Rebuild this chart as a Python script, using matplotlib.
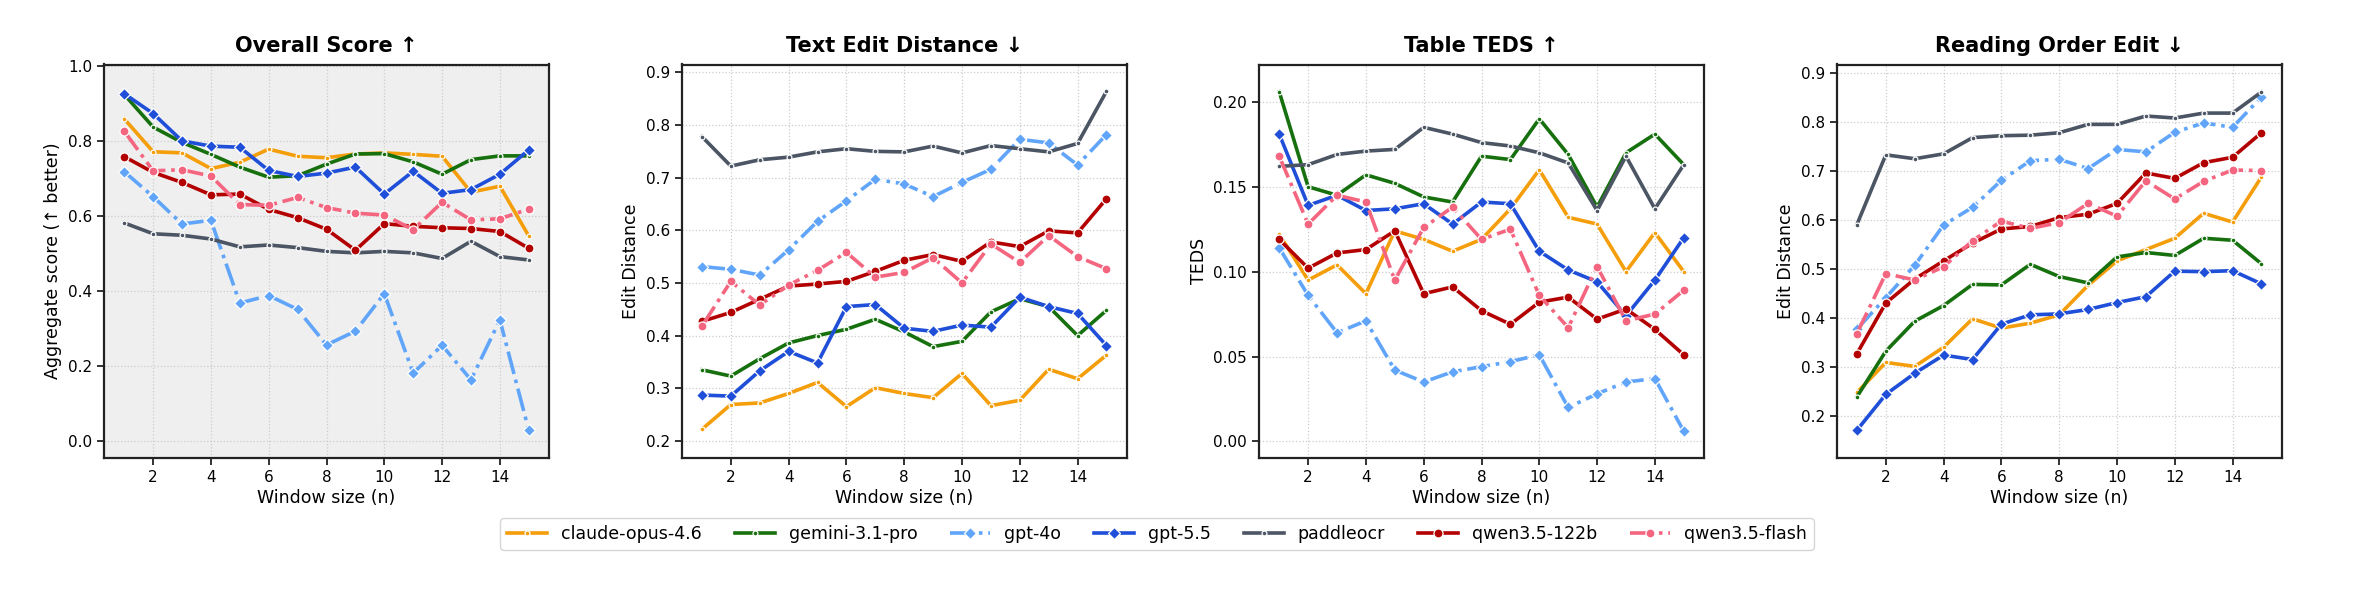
import matplotlib
matplotlib.use("Agg")
import matplotlib.pyplot as plt

# window sizes
windows = list(range(1, 16))
models = ["claude-opus-4.6", "gemini-3.1-pro", "gpt-4o", "gpt-5.5",
          "paddleocr", "qwen3.5-122b", "qwen3.5-flash"]

overall = {
    "claude-opus-4.6": [0.860, 0.772, 0.769, 0.727, 0.744, 0.779, 0.760, 0.756, 0.766, 0.769, 0.765, 0.760, 0.664, 0.680, 0.547],
    "gemini-3.1-pro":  [0.925, 0.838, 0.797, 0.765, 0.731, 0.704, 0.708, 0.739, 0.766, 0.767, 0.745, 0.712, 0.751, 0.761, 0.761],
    "gpt-4o":          [0.719, 0.652, 0.579, 0.589, 0.368, 0.388, 0.351, 0.256, 0.293, 0.393, 0.181, 0.255, 0.163, 0.323, 0.028],
    "gpt-5.5":         [0.927, 0.874, 0.801, 0.787, 0.784, 0.722, 0.706, 0.715, 0.731, 0.659, 0.720, 0.661, 0.671, 0.712, 0.777],
    "paddleocr":       [0.582, 0.553, 0.549, 0.539, 0.518, 0.523, 0.516, 0.506, 0.502, 0.506, 0.502, 0.487, 0.533, 0.492, 0.483],
    "qwen3.5-122b":    [0.759, 0.717, 0.690, 0.657, 0.659, 0.618, 0.596, 0.565, 0.509, 0.580, 0.573, 0.569, 0.567, 0.559, 0.514],
    "qwen3.5-flash":   [0.827, 0.721, 0.724, 0.707, 0.631, 0.629, 0.650, 0.623, 0.608, 0.603, 0.564, 0.637, 0.590, 0.593, 0.619],
}

text_edit = {
    "claude-opus-4.6": [0.222, 0.269, 0.272, 0.290, 0.311, 0.265, 0.301, 0.290, 0.282, 0.328, 0.267, 0.277, 0.336, 0.318, 0.363],
    "gemini-3.1-pro":  [0.335, 0.323, 0.356, 0.386, 0.400, 0.412, 0.431, 0.407, 0.379, 0.389, 0.445, 0.470, 0.455, 0.400, 0.448],
    "gpt-4o":          [0.531, 0.526, 0.515, 0.563, 0.617, 0.656, 0.697, 0.688, 0.664, 0.691, 0.716, 0.773, 0.766, 0.724, 0.782],
    "gpt-5.5":         [0.287, 0.285, 0.333, 0.370, 0.348, 0.455, 0.459, 0.414, 0.408, 0.420, 0.416, 0.473, 0.455, 0.442, 0.381],
    "paddleocr":       [0.778, 0.722, 0.734, 0.739, 0.749, 0.755, 0.750, 0.749, 0.760, 0.747, 0.761, 0.755, 0.749, 0.765, 0.864],
    "qwen3.5-122b":    [0.427, 0.444, 0.469, 0.494, 0.498, 0.503, 0.522, 0.543, 0.554, 0.541, 0.578, 0.569, 0.599, 0.595, 0.660],
    "qwen3.5-flash":   [0.418, 0.503, 0.458, 0.496, 0.524, 0.558, 0.511, 0.520, 0.548, 0.500, 0.574, 0.539, 0.590, 0.550, 0.527],
}

table_teds = {
    "claude-opus-4.6": [0.122, 0.095, 0.104, 0.087, 0.124, 0.119, 0.112, 0.119, 0.137, 0.160, 0.132, 0.128, 0.100, 0.123, 0.100],
    "gemini-3.1-pro":  [0.206, 0.150, 0.145, 0.157, 0.152, 0.144, 0.141, 0.168, 0.166, 0.190, 0.169, 0.138, 0.170, 0.181, 0.163],
    "gpt-4o":          [0.114, 0.086, 0.064, 0.071, 0.042, 0.035, 0.041, 0.044, 0.047, 0.051, 0.020, 0.028, 0.035, 0.037, 0.006],
    "gpt-5.5":         [0.181, 0.139, 0.145, 0.136, 0.137, 0.140, 0.128, 0.141, 0.140, 0.112, 0.101, 0.094, 0.074, 0.095, 0.120],
    "paddleocr":       [0.162, 0.163, 0.169, 0.171, 0.172, 0.185, 0.181, 0.176, 0.174, 0.170, 0.164, 0.136, 0.168, 0.137, 0.163],
    "qwen3.5-122b":    [0.119, 0.102, 0.111, 0.113, 0.124, 0.087, 0.091, 0.077, 0.069, 0.082, 0.085, 0.072, 0.078, 0.066, 0.051],
    "qwen3.5-flash":   [0.168, 0.128, 0.145, 0.141, 0.095, 0.126, 0.138, 0.119, 0.125, 0.086, 0.067, 0.103, 0.071, 0.075, 0.089],
}

reading_order = {
    "claude-opus-4.6": [0.249, 0.310, 0.302, 0.341, 0.399, 0.380, 0.390, 0.407, 0.467, 0.517, 0.540, 0.563, 0.614, 0.596, 0.688],
    "gemini-3.1-pro":  [0.240, 0.333, 0.394, 0.426, 0.469, 0.468, 0.510, 0.485, 0.472, 0.525, 0.534, 0.528, 0.563, 0.559, 0.511],
    "gpt-4o":          [0.378, 0.442, 0.508, 0.590, 0.626, 0.681, 0.721, 0.724, 0.705, 0.744, 0.739, 0.779, 0.798, 0.789, 0.851],
    "gpt-5.5":         [0.172, 0.245, 0.288, 0.325, 0.316, 0.388, 0.407, 0.409, 0.418, 0.432, 0.444, 0.496, 0.495, 0.497, 0.470],
    "paddleocr":       [0.591, 0.733, 0.725, 0.735, 0.768, 0.772, 0.773, 0.778, 0.795, 0.795, 0.812, 0.808, 0.818, 0.818, 0.861],
    "qwen3.5-122b":    [0.328, 0.431, 0.480, 0.517, 0.553, 0.582, 0.587, 0.605, 0.612, 0.634, 0.696, 0.685, 0.717, 0.728, 0.778],
    "qwen3.5-flash":   [0.369, 0.491, 0.478, 0.505, 0.558, 0.598, 0.583, 0.595, 0.634, 0.608, 0.680, 0.643, 0.679, 0.702, 0.701],
}

titles = ["Overall Score \u2191", "Text Edit Distance \u2193", "Table TEDS \u2191", "Reading Order Edit \u2193"]
ylabels = ["Aggregate score (\u2191 better)", "Edit Distance", "TEDS", "Edit Distance"]

# style per model: color, linestyle, marker, markersize
styles = {
    "claude-opus-4.6": ("#f59e0b", "-", "o", 3.5),
    "gemini-3.1-pro":  ("#17700e", "-", "o", 3.5),
    "gpt-4o":          ("#60a5fa", "-.", "D", 6.5),
    "gpt-5.5":         ("#1f4fd8", "-", "D", 6.5),
    "paddleocr":       ("#4b5563", "-", "o", 3.5),
    "qwen3.5-122b":    ("#b30000", "-", "o", 6.5),
    "qwen3.5-flash":   ("#f4667f", "-.", "o", 6.5),
}

plt.rcParams["font.family"] = ["DejaVu Sans"]
plt.rcParams["xtick.labelsize"] = 11
plt.rcParams["ytick.labelsize"] = 11

fig = plt.figure(figsize=(23.53, 5.92), dpi=100)
W, H = 2353.0, 592.0
lefts = [104, 681.7, 1259, 1836.7]
ylims = [(-0.045, 1.005), (0.168, 0.915), (-0.0096, 0.222), (0.116, 0.917)]
yticks = [[0.0, 0.2, 0.4, 0.6, 0.8, 1.0],
          [0.2, 0.3, 0.4, 0.5, 0.6, 0.7, 0.8, 0.9],
          [0.00, 0.05, 0.10, 0.15, 0.20],
          [0.2, 0.3, 0.4, 0.5, 0.6, 0.7, 0.8, 0.9]]
fmts = ["%.1f", "%.1f", "%.2f", "%.1f"]

handles = []
for i, data in enumerate([overall, text_edit, table_teds, reading_order]):
    ax = fig.add_axes([lefts[i] / W, (H - 457.7) / H, 445 / W, 393.2 / H])
    if i == 0:
        ax.set_facecolor("#efefef")
    for m in models:
        c, ls, mk, ms = styles[m]
        ln, = ax.plot(windows, data[m], color=c, linestyle=ls, marker=mk, markersize=ms,
                      markeredgecolor="white", markeredgewidth=0.9, linewidth=2.6, label=m)
        if i == 0:
            handles.append(ln)
    ax.set_xlim(0.3, 15.7)
    ax.set_ylim(*ylims[i])
    ax.set_yticks(yticks[i])
    ax.yaxis.set_major_formatter(plt.FormatStrFormatter(fmts[i]))
    ax.set_xticks([2, 4, 6, 8, 10, 12, 14])
    ax.grid(True, linestyle=":", color="#cccccc", linewidth=0.9)
    ax.set_axisbelow(True)
    for s in ax.spines.values():
        s.set_color("#222222")
        s.set_linewidth(1.6)
    ax.tick_params(color="#222222", width=1.3, length=5)
    ax.set_title(titles[i], fontsize=15, fontweight="bold", pad=9)
    ax.set_xlabel("Window size (n)", fontsize=12.5, labelpad=3)
    ax.set_ylabel(ylabels[i], fontsize=12.5)

fig.legend(handles=handles, labels=models, loc="center", ncol=7,
           bbox_to_anchor=(1157 / W, 1 - 534 / H), fontsize=12.5, frameon=True,
           handlelength=2.3, columnspacing=1.9, edgecolor="#cccccc", fancybox=True)

fig.savefig("out.png", dpi=100)
